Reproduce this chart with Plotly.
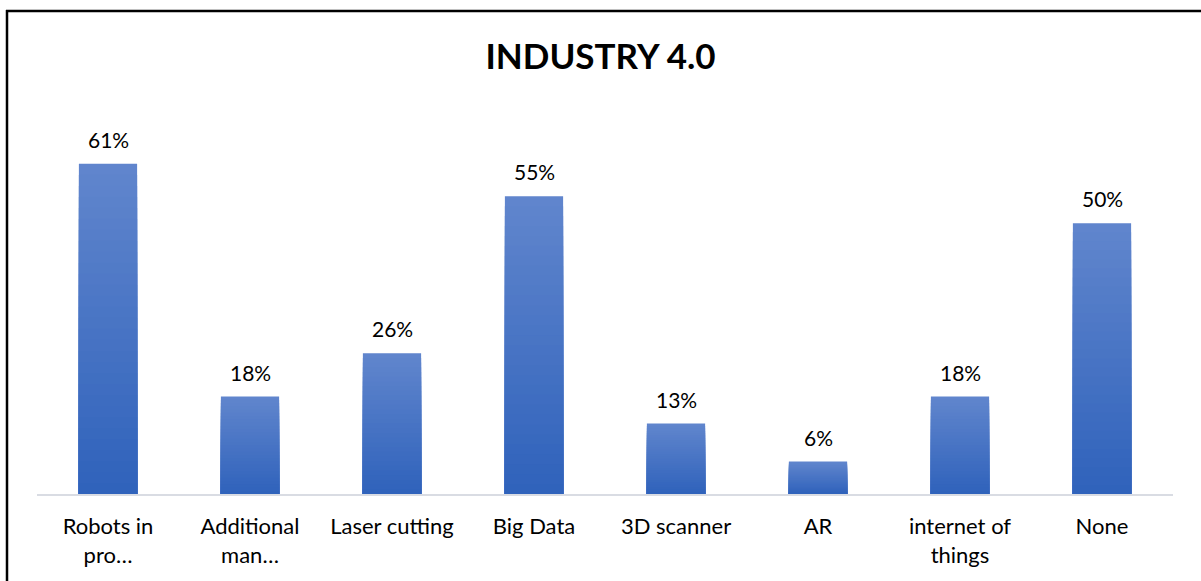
import plotly.graph_objects as go

# Survey data: share of respondents using each Industry 4.0 technology
categories = [
    "Robots in<br>pro…",
    "Additional<br>man…",
    "Laser cutting",
    "Big Data",
    "3D scanner",
    "AR",
    "internet of<br>things",
    "None",
]
shares = [0.61, 0.18, 0.26, 0.55, 0.13, 0.06, 0.18, 0.50]

FONT = "Lato"
TOP_RGB = (97, 134, 205)
BOTTOM_RGB = (47, 98, 187)
STEPS = 30


def mix(t):
    r = [round(b + (a - b) * t) for a, b in zip(TOP_RGB, BOTTOM_RGB)]
    return f"rgb({r[0]},{r[1]},{r[2]})"


fig = go.Figure()

# Vertical gradient per bar: stack progressively shorter, darker bars on top
for i in range(STEPS):
    k_hi = 1 - i / STEPS
    k_lo = 1 - (i + 1) / STEPS
    fig.add_trace(go.Bar(
        x=categories,
        y=[v * k_hi for v in shares],
        marker=dict(color=mix((k_hi + k_lo) / 2), line=dict(width=0)),
        hoverinfo="skip" if i else None,
        showlegend=False,
    ))

# Value labels above each bar
for c, v in zip(categories, shares):
    fig.add_annotation(
        x=c, y=v, xref="x", yref="y",
        text=f"{round(v * 100)}%",
        showarrow=False, yanchor="bottom", yshift=10,
        font=dict(family=FONT, size=21, color="#000000"),
    )

# Chart frame along top and left edges
fig.add_shape(type="line", xref="paper", yref="paper",
              x0=-31 / 1136, x1=1.1, y0=(581 - 11 - 87) / 379, y1=(581 - 11 - 87) / 379,
              line=dict(color="#000000", width=2.5))
fig.add_shape(type="line", xref="paper", yref="paper",
              x0=-30 / 1136, x1=-30 / 1136, y0=-0.3, y1=(581 - 10 - 87) / 379,
              line=dict(color="#000000", width=2.5))

fig.update_layout(
    width=1201, height=581,
    margin=dict(l=37, r=28, t=115, b=87),
    paper_bgcolor="white", plot_bgcolor="white",
    barmode="overlay", bargap=0.59,
    title=dict(text="<b>INDUSTRY 4.0</b>", x=0.5, xanchor="center",
               y=1 - 57 / 581, yanchor="middle",
               font=dict(family=FONT, size=35, color="#000000")),
    font=dict(family=FONT, size=22, color="#000000"),
    xaxis=dict(showline=True, linecolor="#D9DCE3", linewidth=2,
               ticks="", showgrid=False, ticklabelstandoff=12,
               tickfont=dict(family=FONT, size=22, color="#000000")),
    yaxis=dict(range=[0, 0.70], visible=False, showgrid=False),
)

fig.write_html("out.html")
